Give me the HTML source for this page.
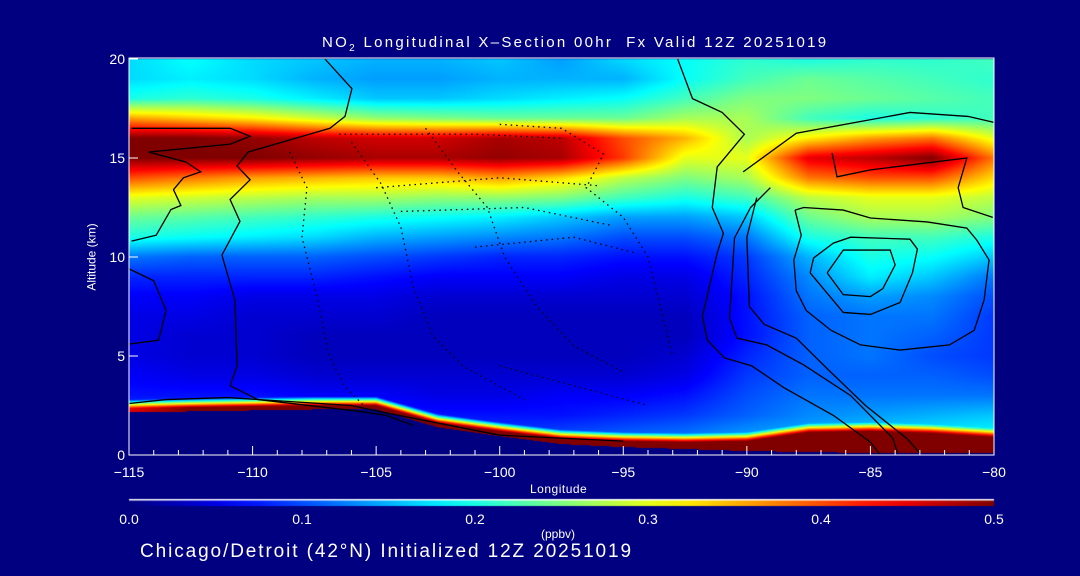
<!DOCTYPE html>
<html><head><meta charset="utf-8">
<style>
body{margin:0;background:#000080;width:1080px;height:576px;overflow:hidden;font-family:"Liberation Sans",sans-serif;color:#fff}
#wrap{position:relative;width:1080px;height:576px}
.t{position:absolute;white-space:nowrap;color:#fff}
canvas,svg{position:absolute;left:0;top:0}
</style></head><body>
<div id="wrap">
<canvas id="cv" width="1080" height="576"></canvas>
<svg id="sv" width="1080" height="576"></svg>
<div class="t" style="left:322px;top:34px;font-size:15px;letter-spacing:2.3px">NO<sub style="font-size:10px">2</sub> Longitudinal X–Section 00hr&nbsp;&nbsp;Fx Valid 12Z 20251019</div>
<div class="t" style="left:58px;top:250px;font-size:12px;transform:rotate(-90deg);transform-origin:center">Altitude (km)</div>
<div class="t" style="left:530px;top:482px;font-size:12px;letter-spacing:0.5px">Longitude</div>
<div class="t" style="left:541px;top:527px;font-size:12px">(ppbv)</div>
<div class="t" style="left:140px;top:541px;font-size:19px;letter-spacing:1.9px">Chicago/Detroit (42°N) Initialized 12Z 20251019</div>
</div>
<script>
const lons=[-115,-112.5,-110,-107.5,-105,-102.5,-100,-97.5,-95,-92.5,-90,-87.5,-85,-82.5,-80];
const alts=[20,19,18,17,16,15,14,13,12,11,10,9,8,7,6,5,4,3,2,1,0];
const no2=[
[.17,.19,.17,.16,.15,.15,.16,.14,.17,.19,.21,.20,.21,.21,.22],
[.17,.18,.17,.15,.14,.14,.15,.15,.15,.19,.22,.24,.23,.22,.21],
[.20,.21,.20,.18,.16,.16,.17,.18,.19,.22,.25,.25,.24,.23,.22],
[.36,.34,.32,.29,.26,.25,.24,.24,.24,.27,.27,.22,.20,.21,.22],
[.50,.50,.49,.47,.46,.46,.48,.47,.40,.35,.27,.32,.36,.38,.30],
[.50,.50,.50,.49,.48,.48,.49,.48,.41,.30,.30,.45,.47,.50,.38],
[.40,.38,.36,.35,.34,.34,.36,.33,.28,.25,.27,.38,.40,.40,.33],
[.30,.29,.28,.27,.27,.26,.26,.25,.22,.20,.22,.28,.30,.30,.28],
[.24,.23,.22,.21,.20,.19,.18,.16,.14,.14,.16,.24,.27,.27,.25],
[.20,.19,.18,.17,.15,.14,.13,.12,.10,.10,.12,.20,.22,.22,.20],
[.12,.11,.11,.11,.10,.09,.08,.08,.07,.07,.09,.15,.20,.19,.16],
[.08,.08,.08,.08,.07,.06,.06,.06,.05,.05,.08,.13,.18,.16,.12],
[.06,.06,.05,.05,.05,.04,.04,.04,.04,.04,.07,.12,.14,.13,.10],
[.05,.05,.04,.04,.04,.03,.03,.03,.03,.03,.07,.11,.12,.12,.09],
[.05,.04,.04,.03,.03,.03,.03,.03,.03,.03,.07,.11,.12,.11,.09],
[.05,.04,.04,.03,.03,.03,.03,.03,.03,.04,.08,.11,.12,.10,.09],
[.06,.05,.05,.04,.04,.04,.04,.04,.04,.05,.09,.11,.11,.11,.10],
[.07,.07,.07,.06,.06,.05,.05,.06,.06,.07,.10,.12,.12,.12,.12],
[.10,.10,.10,.09,.08,.07,.07,.07,.08,.09,.11,.13,.14,.15,.16],
[.12,.12,.12,.12,.10,.09,.09,.10,.11,.12,.14,.15,.17,.18,.19],
[.12,.12,.12,.12,.10,.09,.09,.10,.11,.12,.14,.15,.17,.18,.19]];
const terrain=[2.15,2.2,2.25,2.3,2.3,1.4,0.95,0.55,0.4,0.3,0.2,0.15,0.1,0.1,0.1];
const surfAmp=[.45,.5,.5,.5,.5,.5,.5,.5,.5,.5,.5,.5,.5,.5,.5];
const surfDepth=[.2,.2,.2,.2,.2,.22,.25,.28,.3,.35,.5,1.0,1.1,1.0,.8];
const xTicks=[-115,-110,-105,-100,-95,-90,-85,-80];
const yTicks=[0,5,10,15,20];
const cbTicks=[0,0.1,0.2,0.3,0.4,0.5];
const cbLabels=["0.0","0.1","0.2","0.3","0.4","0.5"];
const solidContours=[
[[-107.07,20],[-105.98,18.5],[-106.26,17.1],[-106.87,16.5],[-110.18,15.3],[-110.63,14.6],[-110.1,13.9],[-110.91,12.9],[-110.51,11.8],[-111.24,10.1],[-110.71,7.8],[-110.63,4.5],[-110.91,3.5],[-109.78,2.8],[-105.65,2.2],[-104.6,2.0],[-103.5,1.5]],
[[-114.9,10.8],[-113.9,11.1],[-113.3,12.4],[-112.9,12.6],[-113.2,13.4],[-112.8,14.0],[-112.1,14.3],[-112.7,14.8],[-114.2,15.3],[-110.9,15.7],[-110.1,16.1],[-110.9,16.5],[-114.9,16.5]],
[[-115,9.4],[-114,8.8],[-113.5,7.3],[-113.8,5.8],[-115,5.6]],
[[-115,2.6],[-113.5,2.8],[-111,2.9],[-106,2.5],[-104.5,2.1],[-100,1.0],[-95,0.7]],
[[-92.8,20],[-92.2,18.0],[-91.0,17.3],[-90.1,16.2],[-91.2,14.55],[-91.4,12.5],[-90.95,11.2],[-91.2,10.2],[-91.8,7.0],[-91.6,5.8],[-90.9,4.9],[-89.8,4.5],[-88.5,3.4],[-86.5,2.0],[-85.0,0.65],[-84.6,0]],
[[-89.05,13.5],[-89.85,12.5],[-90.5,10.96],[-90.7,6.9],[-90.4,5.9],[-89.2,5.56],[-87.7,4.55],[-85.8,3.0],[-84.1,0.86],[-83.9,0.1]],
[[-90.15,14.3],[-88.0,16.25],[-83.4,17.3],[-81.05,17.1],[-80.0,16.8]],
[[-86.55,15.25],[-86.35,14.05],[-85.0,14.4],[-81.1,15.0],[-81.45,13.5],[-81.25,12.5],[-80.05,12.0]],
[[-88.05,12.37],[-87.7,12.5],[-86.1,12.37],[-85.0,11.97],[-82.7,11.77],[-81.1,11.46],[-80.7,10.86],[-80.2,9.85],[-80.4,7.83],[-80.8,6.3],[-81.8,5.56],[-83.8,5.3],[-85.4,5.56],[-86.6,6.3],[-87.6,7.3],[-88.0,8.3],[-88.1,9.85],[-87.8,11.1],[-88.05,12.37]],
[[-87.44,9.2],[-87.3,9.95],[-86.5,10.7],[-85.8,11.0],[-83.4,10.9],[-83.1,10.4],[-83.3,9.2],[-83.8,7.7],[-85.0,7.1],[-86.1,7.2],[-87.44,9.2]],
[[-86.75,9.2],[-86.1,10.35],[-84.2,10.35],[-84.0,9.6],[-84.5,8.4],[-85.0,8.0],[-86.1,8.1],[-86.75,9.2]],
[[-89.6,13.0],[-90.0,11.0],[-89.9,7.5],[-89.3,6.6],[-88.0,5.9],[-86.7,4.3],[-85.2,2.5],[-83.5,0.8],[-83.0,0.1]]
];
const dottedContours=[
[[-108.5,15.3],[-107.8,13.5],[-108.0,11.0],[-107.4,8.0],[-106.9,5.0],[-106.3,3.5],[-105.5,2.5]],
[[-106.0,15.8],[-104.8,13.7],[-104.0,11.5],[-103.5,8.5],[-102.7,6.0],[-101.5,4.5],[-100.2,3.6],[-99,2.8]],
[[-103,16.5],[-101.7,14.3],[-100.5,12.5],[-99.8,10],[-98.5,7.5],[-97,5.5],[-95,4.2]],
[[-100,16.7],[-97.5,16.5],[-95.8,15.2],[-96.5,13.5],[-95,12],[-94,10],[-93.5,7.5],[-93,5]],
[[-105,13.5],[-100,14.0],[-96,13.6]],
[[-106.5,16.2],[-101,16.2],[-97.5,16.0]],
[[-104,12.3],[-99,12.5],[-95.5,11.6]],
[[-101,10.5],[-97,11],[-94.5,10.2]],
[[-100,4.5],[-97,3.5],[-94,2.5]]
];
const x0=129,x1=994,y0=59,y1=455;
const X=l=>x0+(l+115)/35*(x1-x0);
const Y=a=>y1-a/20*(y1-y0);
function jet(v){let t=Math.max(0,Math.min(1,v/0.5));
 const f=(c)=>Math.max(0,Math.min(1,1.5-Math.abs(4*t-c)));
 return [f(3)*255,f(2)*255,f(1)*255];}
function interp1(arr,l){let g=(l+115)/2.5;let i=Math.min(13,Math.max(0,Math.floor(g)));let f=g-i;return arr[i]*(1-f)+arr[i+1]*f;}
function field(l,z){
 let g=(l+115)/2.5;let i=Math.min(13,Math.max(0,Math.floor(g)));let f=g-i;
 let r=(20-z);let j=Math.min(19,Math.max(0,Math.floor(r)));let h=r-j;
 return (no2[j][i]*(1-f)+no2[j][i+1]*f)*(1-h)+(no2[j+1][i]*(1-f)+no2[j+1][i+1]*f)*h;}
const cv=document.getElementById('cv');const ctx=cv.getContext('2d');
const W=x1-x0,H=y1-y0;const img=ctx.createImageData(W,H);
for(let py=0;py<H;py++){const z=20*(1-(py+0.5)/H);
 for(let px=0;px<W;px++){const l=-115+35*(px+0.5)/W;const k=(py*W+px)*4;
  const tr=interp1(terrain,l);let c;
  if(z<tr){c=[0,0,128];}else{
   let v=field(l,z);const dz=z-tr;const d=interp1(surfDepth,l);const a=interp1(surfAmp,l);
   let s=dz<d?1:Math.max(0,1-(dz-d)/0.45);
   v=v+(a-v)*s;c=jet(v);}
  img.data[k]=c[0];img.data[k+1]=c[1];img.data[k+2]=c[2];img.data[k+3]=255;}}
ctx.putImageData(img,x0,y0);
const cg=ctx.createLinearGradient(x0,0,x1,0);
for(let i=0;i<=20;i++){const c=jet(0.5*i/20);cg.addColorStop(i/20,`rgb(${c[0]|0},${c[1]|0},${c[2]|0})`);}
ctx.fillStyle=cg;ctx.fillRect(x0,500,x1-x0,6);
ctx.fillStyle='#fff';ctx.fillRect(x0,499,x1-x0,1.5);
const NS='http://www.w3.org/2000/svg';const sv=document.getElementById('sv');
function mk(tag,at){const e=document.createElementNS(NS,tag);for(const k in at)e.setAttribute(k,at[k]);sv.appendChild(e);return e;}
solidContours.forEach(c=>{const p=mk('polyline',{points:c.map(q=>X(q[0])+','+Y(q[1])).join(' '),fill:'none',stroke:'#000','stroke-width':1.3});

});
dottedContours.forEach(c=>{const p=mk('polyline',{points:c.map(q=>X(q[0])+','+Y(q[1])).join(' '),fill:'none',stroke:'#000','stroke-width':1.3,'stroke-dasharray':'1.5 4'});

});
const box=mk('rect',{x:x0,y:y0-1,width:x1-x0,height:y1-y0+1,fill:'none',stroke:'#fff','stroke-width':1});


for(let l=-115;l<=-80;l++){const maj=(l%5===0);const t=mk('line',{x1:X(l),x2:X(l),y1:y1,y2:y1-(maj?9:5),stroke:'#fff'});

}
xTicks.forEach(l=>{const t=mk('text',{x:X(l),y:477,fill:'#fff','font-size':14,'text-anchor':'middle','font-family':'Liberation Sans'});t.textContent=(l<0?'−'+(-l):l);

});
yTicks.forEach(a=>{const t=mk('text',{x:125,y:Y(a)+5,fill:'#fff','font-size':14,'text-anchor':'end','font-family':'Liberation Sans'});t.textContent=a;


const tk=mk('line',{x1:x0,x2:x0+9,y1:Y(a),y2:Y(a),stroke:'#fff'});

});
cbTicks.forEach((v,i)=>{const t=mk('text',{x:x0+v/0.5*(x1-x0),y:524,fill:'#fff','font-size':14,'text-anchor':'middle','font-family':'Liberation Sans'});t.textContent=cbLabels[i];

});
</script>
</body></html>
